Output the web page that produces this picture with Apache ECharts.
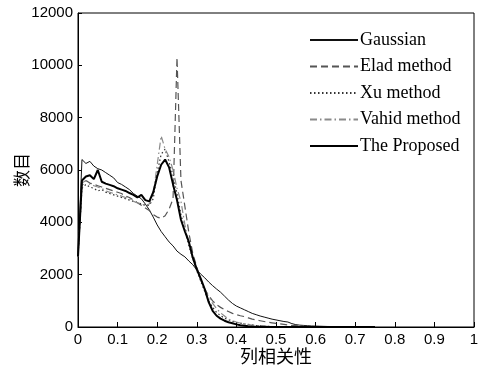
<!DOCTYPE html>
<html>
<head>
<meta charset="utf-8">
<script src="https://cdn.jsdelivr.net/npm/echarts@6/dist/echarts.min.js"></script>
<style>
  html, body { margin: 0; padding: 0; background: #fff; }
  #chart { width: 486px; height: 372px; }
</style>
</head>
<body>
<div id="chart"></div>
<script>
// Column correlation bins (x) and histogram counts for each method
const corr = [0.00,0.01,0.02,0.03,0.04,0.05,0.06,0.07,0.08,0.09,
  0.10,0.11,0.12,0.13,0.14,0.15,0.16,0.17,0.18,0.19,
  0.20,0.21,0.22,0.23,0.24,0.25,0.26,0.27,0.28,0.29,
  0.30,0.31,0.32,0.33,0.34,0.35,0.36,0.37,0.38,0.39,
  0.40,0.41,0.42,0.43,0.44,0.45,0.46,0.47,0.48,0.49,
  0.50,0.51,0.52,0.53,0.54,0.55,0.56,0.57,0.58,0.59,
  0.60,0.61,0.62,0.63,0.64,0.65,0.66,0.67,0.68,0.69,
  0.70,0.71,0.72,0.73,0.74,0.75];

const gaussian = [2700,6400,6250,6330,6150,6050,6000,5900,5800,5700,
  5520,5450,5350,5250,5100,5000,4900,4700,4480,4200,
  3900,3650,3450,3250,3100,2900,2780,2680,2520,2380,
  2180,2020,1880,1720,1580,1450,1330,1180,1030,900,
  800,730,660,590,520,470,420,380,340,300,
  270,240,210,190,130,90,70,60,50,40,
  35,30,25,20,18,15,12,10,8,6,
  5,4,3,2,1,0];

const elad = [2700,5400,5600,5500,5450,5400,5350,5300,5250,5200,
  5150,5100,5000,4950,4850,4750,4650,4550,4450,4300,
  4200,4150,4250,4500,4900,10300,5600,4600,3600,2800,
  2300,1800,1450,1200,1000,850,750,660,590,520,
  470,430,400,350,300,270,240,210,180,160,
  140,120,100,80,60,50,40,30,25,20,
  15,12,10,8,6,5,4,3,2,1,
  0,0,0,0,0,0];

const xu = [2700,5300,5450,5350,5300,5200,5250,5150,5100,5050,
  5000,4950,4900,4850,4800,4750,4700,4650,4650,4900,
  5900,6600,6800,6300,5800,5100,4300,3700,3100,2600,
  2150,1750,1350,1000,750,560,430,340,270,220,
  180,150,120,100,80,60,45,35,25,20,
  15,12,10,8,6,5,4,3,2,1,
  0,0,0,0,0,0,0,0,0,0,
  0,0,0,0,0,0];

const vahid = [2700,5500,5600,5450,5400,5350,5300,5200,5150,5100,
  5050,5000,4950,4900,4800,4750,4700,4650,4700,5100,
  6200,7300,6800,6500,6000,5300,4800,3900,3200,2600,
  2200,1800,1450,1150,900,700,540,420,300,240,
  190,150,120,95,75,60,45,35,25,20,
  15,12,10,8,6,5,4,3,2,1,
  0,0,0,0,0,0,0,0,0,0,
  0,0,0,0,0,0];

const proposed = [2700,5600,5750,5800,5650,6000,5550,5480,5430,5380,
  5300,5250,5200,5120,5050,4950,5050,4850,4800,5150,
  5750,6200,6400,6100,5450,4850,4100,3650,3250,2650,
  2200,1850,1450,950,620,430,320,240,180,140,
  100,70,45,30,20,12,8,5,3,2,
  1,0,0,0,0,0,0,0,0,0,
  0,0,0,0,0,0,0,0,0,0,
  0,0,0,0,0,0];

const seriesNames = ['Gaussian', 'Elad method', 'Xu method', 'Vahid method', 'The Proposed'];
const yTicks = [0, 2000, 4000, 6000, 8000, 10000, 12000];
const xTicks = [0, 0.1, 0.2, 0.3, 0.4, 0.5, 0.6, 0.7, 0.8, 0.9, 1];

function pairs(ys) {
  return corr.map((x, i) => [x, ys[i]]);
}

const lineStyles = [
  { color: '#111', width: 1, type: 'solid' },
  { color: '#555', width: 1.2, type: [7, 4] },
  { color: '#333', width: 1.2, type: [1.5, 2.5] },
  { color: '#8a8a8a', width: 1.2, type: [7, 3, 1.5, 3] },
  { color: '#000', width: 2, type: 'solid' }
];
const values = [gaussian, elad, xu, vahid, proposed];

const chart = echarts.init(document.getElementById('chart'), null, { renderer: 'canvas' });

const axisFont = { fontFamily: 'Liberation Sans, Arial, sans-serif', fontSize: 15, color: '#000' };

chart.setOption({
  animation: false,
  backgroundColor: '#fff',
  grid: {
    left: 78, right: 12, top: 13, bottom: 45,
    containLabel: false,
    outerBoundsMode: 'none',
    show: true, borderColor: '#000', borderWidth: 1, backgroundColor: 'transparent'
  },
  legend: {
    data: seriesNames,
    orient: 'vertical',
    left: 304,
    top: 26,
    itemWidth: 48,
    itemHeight: 14,
    itemGap: 8.5,
    itemStyle: { opacity: 0 },
    textStyle: { fontFamily: 'Liberation Serif, Times New Roman, serif', fontSize: 18, color: '#000', padding: [0, 0, 0, -3] }
  },
  xAxis: {
    type: 'value',
    min: 0, max: 1, interval: 0.1,
    name: '列相关性',
    nameLocation: 'middle',
    nameGap: 20,
    nameMoveOverlap: false,
    nameTextStyle: { fontFamily: 'Noto Sans CJK SC', fontSize: 18, color: '#000' },
    axisLine: { lineStyle: { color: '#000', width: 1 } },
    axisTick: { inside: true, length: 5, lineStyle: { color: '#000' } },
    splitLine: { show: false },
    axisLabel: Object.assign({ margin: 5, formatter: v => xTicks.includes(+v.toFixed(1)) ? String(+v.toFixed(1)) : '' }, axisFont)
  },
  yAxis: {
    type: 'value',
    min: 0, max: 12000, interval: 2000,
    name: '数目',
    nameLocation: 'middle',
    nameGap: 48,
    nameMoveOverlap: false,
    nameTextStyle: { fontFamily: 'Noto Sans CJK SC', fontSize: 17, color: '#000' },
    axisLine: { show: true, lineStyle: { color: '#000', width: 1 } },
    axisTick: { show: true, inside: true, length: 4, lineStyle: { color: '#000' } },
    splitLine: { show: false },
    axisLabel: Object.assign({ margin: 5, formatter: v => yTicks.includes(v) ? String(v) : '' }, axisFont)
  },
  series: seriesNames.map((name, i) => ({
    name,
    type: 'line',
    data: pairs(values[i]),
    symbol: 'none',
    smooth: false,
    z: i === 4 ? 5 : 2,
    lineStyle: lineStyles[i],
    itemStyle: { color: lineStyles[i].color }
  }))
});
</script>
</body>
</html>
